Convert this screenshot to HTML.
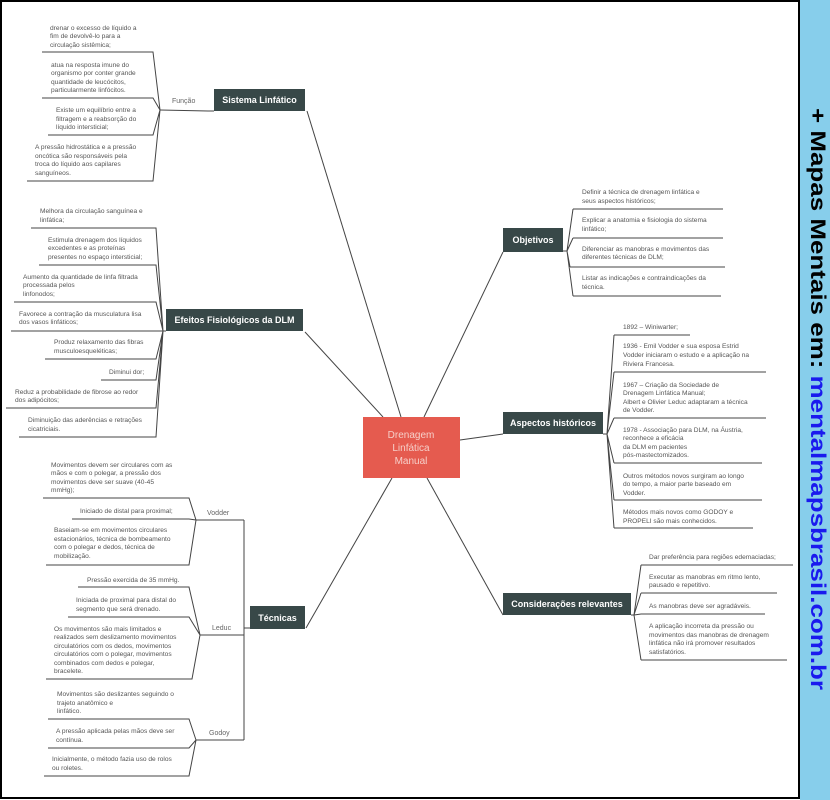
<!DOCTYPE html>
<html><head><meta charset="utf-8"><style>
html,body{margin:0;padding:0;background:#fff;}
svg{display:block;}
.l{font-family:"Liberation Sans",sans-serif;font-size:6.6px;fill:#555;}
.n{font-family:"Liberation Sans",sans-serif;font-size:9px;font-weight:bold;fill:#fff;}
.s{font-family:"Liberation Sans",sans-serif;font-size:7px;fill:#666;}
</style></head><body>
<svg width="830" height="800" viewBox="0 0 830 800" xmlns="http://www.w3.org/2000/svg">
<rect x="0" y="0" width="830" height="800" fill="#fff"/>
<rect x="800" y="0" width="30" height="800" fill="#87CEEB"/>
<rect x="1" y="1" width="798" height="797" fill="none" stroke="#000" stroke-width="2"/>
<text transform="translate(811,108) rotate(90)" font-family="Liberation Sans,sans-serif" font-weight="bold" font-size="21" textLength="582" lengthAdjust="spacingAndGlyphs"><tspan fill="#000">+ Mapas Mentais em: </tspan><tspan fill="#1a1aee">mentalmapsbrasil.com.br</tspan></text>

<g stroke="#444" stroke-width="1" fill="none">
<!-- main connectors -->
<line x1="307" y1="111" x2="401" y2="417"/>
<line x1="305" y1="332" x2="383" y2="417"/>
<line x1="503" y1="252" x2="424" y2="417"/>
<line x1="460" y1="440" x2="503" y2="434"/>
<line x1="427" y1="478" x2="503" y2="615"/>
<line x1="392" y1="478" x2="306" y2="628"/>
<!-- Sistema -->
<polyline points="214,111 208,111 160,110"/>
<path d="M42,52 H153 L160,110 M42,98 H153 L160,110 M48,135 H153 L160,110 M27,181 H153 L160,110"/>
<!-- Efeitos -->
<path d="M166,331 H163 M31,228 H156 L163,331 M39,265 H156 L163,331 M14,302 H156 L163,331 M11,331 H163 M45,359 H156 L163,331 M101,380 H156 L163,331 M6,408 H156 L163,331 M19,437 H156 L163,331"/>
<!-- Tecnicas -->
<path d="M250,628 H244 M244,520 V740 M196,520 H244 M200,635 H244 M196,740 H244"/>
<path d="M43,498 H189 L196,520 M72,519 H189 L196,520 M46,565 H189 L196,520"/>
<path d="M78,587 H189 L200,635 M68,617 H189 L200,635 M46,679 H192 L200,635"/>
<path d="M48,719 H189 L196,740 M48,748 H189 L196,740 M44,776 H189 L196,740"/>
<!-- Objetivos -->
<path d="M563,251 H567 M573,209 H723 M567,251 L573,209 M573,238 H723 M567,251 L573,238 M570,267 H725 M567,251 L570,267 M573,296 H721 M567,251 L573,296"/>
<!-- Aspectos -->
<path d="M603,434 H607 M614,335 H690 M607,434 L614,335 M614,372 H766 M607,434 L614,372 M614,418 H766 M607,434 L614,418 M614,463 H762 M607,434 L614,463 M614,500 H762 M607,434 L614,500 M614,528 H753 M607,434 L614,528"/>
<!-- Consideracoes -->
<path d="M631,615 H634 M641,565 H793 M634,615 L641,565 M641,593 H777 M634,615 L641,593 M641,614 H765 M634,615 L641,614 M641,660 H787 M634,615 L641,660"/>
</g>

<!-- central -->
<rect x="363" y="417" width="97" height="61" fill="#E55B4F"/>
<g font-family="Liberation Sans,sans-serif" font-size="10" fill="#f6cfc9" text-anchor="middle">
<text x="411" y="438">Drenagem</text><text x="411" y="451">Linfática</text><text x="411" y="464">Manual</text></g>

<!-- dark nodes -->
<g fill="#384848">
<rect x="214" y="89" width="91" height="22"/>
<rect x="166" y="309" width="137" height="22"/>
<rect x="503" y="228" width="60" height="24"/>
<rect x="503" y="412" width="100" height="22"/>
<rect x="503" y="593" width="128" height="22"/>
<rect x="250" y="606" width="55" height="23"/>
</g>
<g class="n" text-anchor="middle">
<text x="259.5" y="103">Sistema Linfático</text>
<text x="234.5" y="323">Efeitos Fisiológicos da DLM</text>
<text x="533" y="243">Objetivos</text>
<text x="553" y="426">Aspectos históricos</text>
<text x="567" y="607">Considerações relevantes</text>
<text x="277.5" y="621">Técnicas</text>
</g>

<g class="s">
<text x="172" y="103">Função</text>
<text x="207" y="515">Vodder</text>
<text x="212" y="630">Leduc</text>
<text x="209" y="735">Godoy</text>
</g>

<g class="l">
<!-- Sistema -->
<text x="50" y="30">drenar o excesso de líquido a</text>
<text x="50" y="38">fim de devolvê-lo para a</text>
<text x="50" y="47">circulação sistêmica;</text>
<text x="51" y="67">atua na resposta imune do</text>
<text x="51" y="75">organismo por conter grande</text>
<text x="51" y="84">quantidade de leucócitos,</text>
<text x="51" y="92">particularmente linfócitos.</text>
<text x="56" y="112">Existe um equilíbrio entre a</text>
<text x="56" y="121">filtragem e a reabsorção do</text>
<text x="56" y="129">líquido intersticial;</text>
<text x="35" y="149">A pressão hidrostática e a pressão</text>
<text x="35" y="158">oncótica são responsáveis pela</text>
<text x="35" y="166">troca do líquido aos capilares</text>
<text x="35" y="175">sanguíneos.</text>
<!-- Efeitos -->
<text x="40" y="213">Melhora da circulação sanguínea e</text>
<text x="40" y="222">linfática;</text>
<text x="48" y="242">Estimula drenagem dos líquidos</text>
<text x="48" y="250">excedentes e as proteínas</text>
<text x="48" y="259">presentes no espaço intersticial;</text>
<text x="23" y="279">Aumento da quantidade de linfa filtrada</text>
<text x="23" y="287">processada pelos</text>
<text x="23" y="296">linfonodos;</text>
<text x="19" y="316">Favorece a contração da musculatura lisa</text>
<text x="19" y="324">dos vasos linfáticos;</text>
<text x="54" y="344">Produz relaxamento das fibras</text>
<text x="54" y="353">musculoesqueléticas;</text>
<text x="109" y="374">Diminui dor;</text>
<text x="15" y="394">Reduz a probabilidade de fibrose ao redor</text>
<text x="15" y="402">dos adipócitos;</text>
<text x="28" y="422">Diminuição das aderências e retrações</text>
<text x="28" y="431">cicatriciais.</text>
<!-- Vodder -->
<text x="51" y="467">Movimentos devem ser circulares com as</text>
<text x="51" y="475">mãos e com o polegar, a pressão dos</text>
<text x="51" y="484">movimentos deve ser suave (40-45</text>
<text x="51" y="492">mmHg);</text>
<text x="80" y="513">Iniciado de distal para proximal;</text>
<text x="54" y="532">Baseiam-se em movimentos circulares</text>
<text x="54" y="541">estacionários, técnica de bombeamento</text>
<text x="54" y="549">com o polegar e dedos, técnica de</text>
<text x="54" y="558">mobilização.</text>
<!-- Leduc -->
<text x="87" y="582">Pressão exercida de 35 mmHg.</text>
<text x="76" y="602">Iniciada de proximal para distal do</text>
<text x="76" y="611">segmento que será drenado.</text>
<text x="54" y="631">Os movimentos são mais limitados e</text>
<text x="54" y="639">realizados sem deslizamento movimentos</text>
<text x="54" y="648">circulatórios com os dedos, movimentos</text>
<text x="54" y="656">circulatórios com o polegar, movimentos</text>
<text x="54" y="665">combinados com dedos e polegar,</text>
<text x="54" y="673">bracelete.</text>
<!-- Godoy -->
<text x="57" y="696">Movimentos são deslizantes seguindo o</text>
<text x="57" y="705">trajeto anatômico e</text>
<text x="57" y="713">linfático.</text>
<text x="56" y="733">A pressão aplicada pelas mãos deve ser</text>
<text x="56" y="742">contínua.</text>
<text x="52" y="761">Inicialmente, o método fazia uso de rolos</text>
<text x="52" y="770">ou roletes.</text>
<!-- Objetivos -->
<text x="582" y="194">Definir a técnica de drenagem linfática e</text>
<text x="582" y="203">seus aspectos históricos;</text>
<text x="582" y="222">Explicar a anatomia e fisiologia do sistema</text>
<text x="582" y="231">linfático;</text>
<text x="582" y="251">Diferenciar as manobras e movimentos das</text>
<text x="582" y="259">diferentes técnicas de DLM;</text>
<text x="582" y="280">Listar as indicações e contraindicações da</text>
<text x="582" y="289">técnica.</text>
<!-- Aspectos -->
<text x="623" y="329">1892 – Winiwarter;</text>
<text x="623" y="348">1936 - Emil Vodder e sua esposa Estrid</text>
<text x="623" y="357">Vodder iniciaram o estudo e a aplicação na</text>
<text x="623" y="366">Riviera Francesa.</text>
<text x="623" y="387">1967 – Criação da Sociedade de</text>
<text x="623" y="395">Drenagem Linfática Manual;</text>
<text x="623" y="404">Albert e Olivier Leduc adaptaram a técnica</text>
<text x="623" y="412">de Vodder.</text>
<text x="623" y="432">1978 - Associação para DLM, na Áustria,</text>
<text x="623" y="440">reconhece a eficácia</text>
<text x="623" y="449">da DLM em pacientes</text>
<text x="623" y="457">pós-mastectomizados.</text>
<text x="623" y="478">Outros métodos novos surgiram ao longo</text>
<text x="623" y="486">do tempo, a maior parte baseado em</text>
<text x="623" y="495">Vodder.</text>
<text x="623" y="514">Métodos mais novos como GODOY e</text>
<text x="623" y="523">PROPELI são mais conhecidos.</text>
<!-- Consideracoes -->
<text x="649" y="559">Dar preferência para regiões edemaciadas;</text>
<text x="649" y="579">Executar as manobras em ritmo lento,</text>
<text x="649" y="587">pausado e repetitivo.</text>
<text x="649" y="608">As manobras deve ser agradáveis.</text>
<text x="649" y="628">A aplicação incorreta da pressão ou</text>
<text x="649" y="637">movimentos das manobras de drenagem</text>
<text x="649" y="645">linfática não irá promover resultados</text>
<text x="649" y="654">satisfatórios.</text>
</g>
</svg>
</body></html>
